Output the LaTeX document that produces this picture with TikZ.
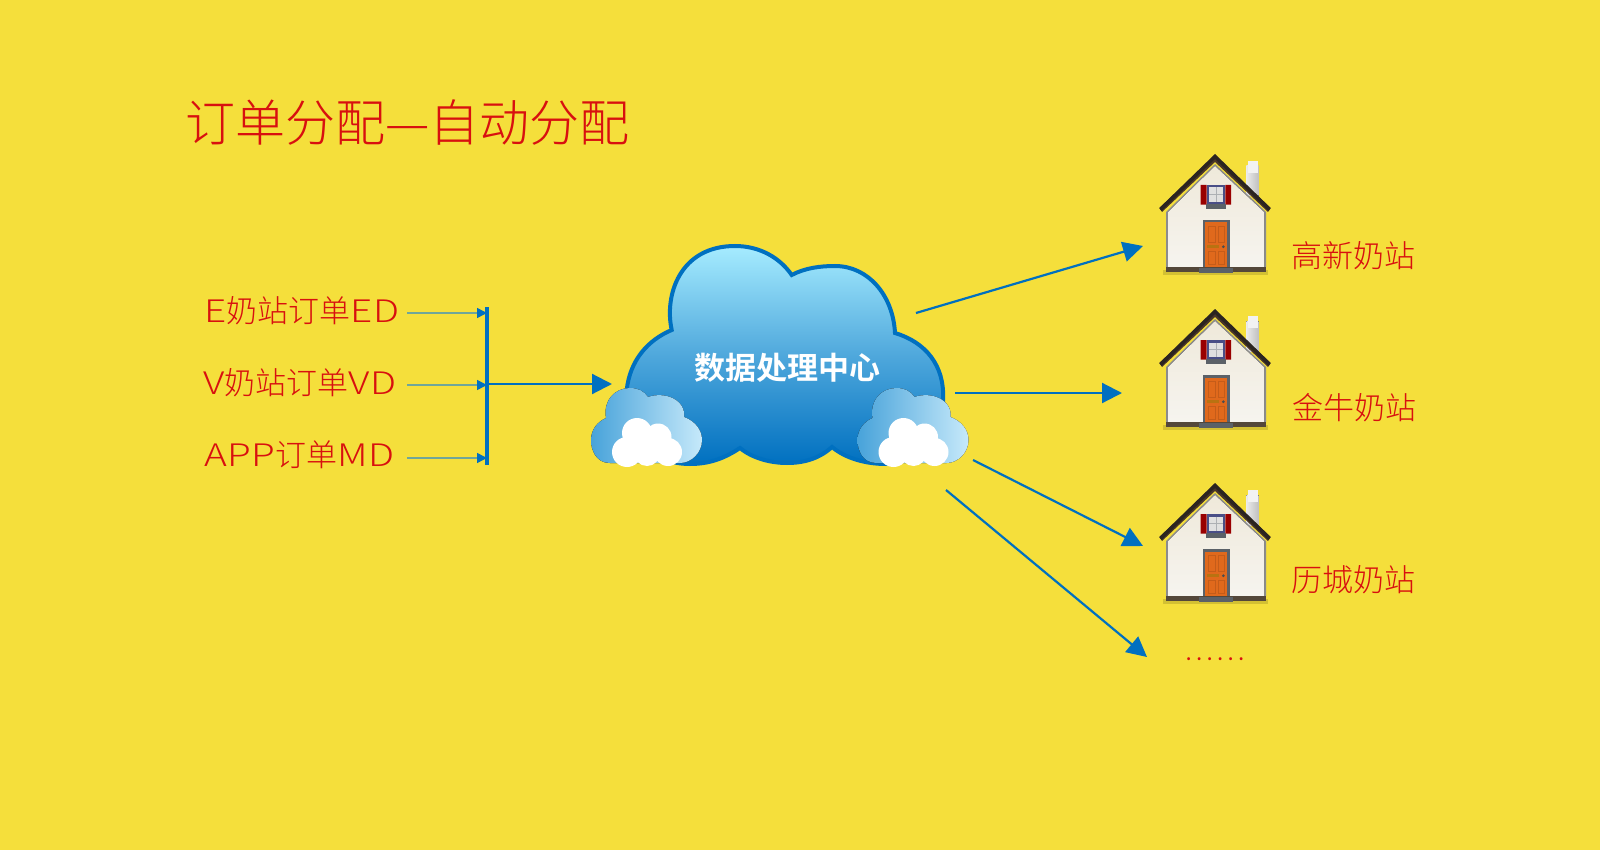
\documentclass[tikz,border=0pt]{standalone}
\usepackage{fontspec}
\usetikzlibrary{arrows.meta}
\setmainfont{Noto Sans CJK SC Light}
\newfontfamily\boldcjk{Noto Sans CJK SC Bold}
\newfontfamily\wide[FakeStretch=1.25, LetterSpace=2]{Noto Sans CJK SC Light}
\definecolor{bgyellow}{HTML}{F5DF3B}
\definecolor{txtred}{HTML}{D8100F}
\definecolor{linkblue}{HTML}{0070C0}
\definecolor{linkgrey}{HTML}{6FA69A}
\definecolor{roofdark}{HTML}{2B2420}
\definecolor{roofbrown}{HTML}{4A3628}
\definecolor{stepgrey}{HTML}{5B6168}
\definecolor{wallwhite}{HTML}{F6F4EF}
\definecolor{gablecream}{HTML}{EFE9DA}
\definecolor{basebrown}{HTML}{54473A}
\definecolor{doororange}{HTML}{E0691C}
\definecolor{cloudtop}{HTML}{A6ECFF}
\definecolor{cloudmid}{HTML}{4FA8DC}
\definecolor{minileft}{HTML}{48A3DA}
\definecolor{miniright}{HTML}{C6E9FA}

\begin{document}
\begin{tikzpicture}[x=1pt, y=-1pt, line join=miter,
    lbl/.style = {text=txtred, font=\fontsize{31}{31}\selectfont, inner sep=0pt},
    thin link/.style = {draw=linkgrey, line width=1.5pt, -{Triangle[length=10pt, width=10pt, color=linkblue]}},
    big link/.style = {draw=linkblue, line width=2.2pt, -{Triangle[length=20pt, width=20pt, fill=linkblue]}},
    minicloud/.pic = {
      \fill[left color=minileft, right color=miniright]
        (19,75) .. controls (5,75) and (0,62) .. (0,52)
        .. controls (0,42) and (6,34) .. (15,30)
        .. controls (12,12) and (24,0) .. (39,0)
        .. controls (47,0) and (53,3) .. (57,9)
        .. controls (74,3) and (95,12) .. (93,29)
        .. controls (104,33) and (111,42) .. (111,52)
        .. controls (111,65) and (100,75) .. (89,75) -- cycle;
      \fill[white] (46,45) circle (15) (67,49) circle (13.5) (36,64) circle (15)
        (56,65) circle (13) (77,64) circle (14);
    },
    house/.pic = {
      \fill[black!14!bgyellow] (-52,116) rectangle (53,121);
      \fill[left color=black!8!white, right color=black!25!white] (31.3,12) rectangle (43.7,42);
      \fill[black!5!white] (32.5,7) rectangle (42.5,19);
      \fill[black!45!white] (0,10) -- (51,58) -- (51,113) -- (-49,113) -- (-49,58) -- cycle;
      \fill[top color=gablecream, bottom color=wallwhite] (0,12) -- (49,58) -- (49,113) -- (-47,113) -- (-47,58) -- cycle;
      \fill[roofbrown] (-53,58) -- (0,8) -- (53,58) -- (55.7,54) -- (0,3) -- (-55.7,54) -- cycle;
      \fill[roofdark] (-55.7,54) -- (0,0) -- (55.7,54) -- (53.5,57) -- (0,5) -- (-53.5,57) -- cycle;
      \fill[basebrown] (-49,113) rectangle (51,118);
      \fill[stepgrey] (-16,114) rectangle (18,119);
      \fill[stepgrey] (-12,66) rectangle (14.5,113);
      \fill[doororange] (-9.7,68.5) rectangle (12.3,113);
      \draw[doororange!88!black, line width=.4pt] (-6.5,72) rectangle (0,88) (3,72) rectangle (9.5,88)
        (-6.5,97) rectangle (0,110) (3,97) rectangle (9.5,110);
      \fill[doororange!60!olive] (-7.7,91) rectangle (3.6,94);
      \fill[black!70] (8.3,92.7) circle (1.5);
      \fill[red!60!black] (-14.3,31) rectangle (-8.3,50.7) (10.3,31) rectangle (16,50.7);
      \fill[stepgrey!80!blue] (-8.3,31.3) rectangle (10.3,50);
      \fill[black!12] (-6.3,33.5) rectangle (8.3,48);
      \draw[stepgrey!50!white, line width=1pt] (1,33.5) -- (1,48) (-6.3,40.7) -- (8.3,40.7);
      \fill[stepgrey] (-9,50) rectangle (11,55);
    }]
  \fill[bgyellow] (0,0) rectangle (1600,850);
  \clip (0,0) rectangle (1600,850);

  % title and order sources
  \node[lbl, font=\fontsize{50}{50}\selectfont] (title) at (407.5,123) {订单分配—自动分配};
  \node[lbl, anchor=west] (ed) at (204,311) {{\wide E}奶站订单{\wide ED}};
  \node[lbl, anchor=west] (vd) at (203,383) {{\wide V}奶站订单{\wide VD}};
  \node[lbl, anchor=west] (md) at (204,455) {{\wide APP}订单{\wide MD}};

  \coordinate (ed end) at (407,313);
  \coordinate (vd end) at (407,385);
  \coordinate (md end) at (407,458);
  \coordinate (bar top) at (487,307);
  \coordinate (bar bottom) at (487,465);
  \coordinate (bar ed) at (487,313);
  \coordinate (bar vd) at (487,385);
  \coordinate (bar md) at (487,458);
  \coordinate (bar out) at (487,384);
  \coordinate (cloud in) at (612,384);

  \path
    (ed end) edge[thin link] (bar ed)
    (vd end) edge[thin link] (bar vd)
    (md end) edge[thin link] (bar md);
  \draw[linkblue, line width=3.2pt] (bar top) -- (bar bottom);
  \path (bar out) edge[big link] (cloud in);

  % main cloud
  \path[draw=linkblue, line width=4pt,
      top color=cloudtop, bottom color=linkblue, middle color=cloudmid]
    (671.7,330) .. controls (664,295) and (680,246) .. (735,246)
    .. controls (760,246) and (780,258) .. (791.7,275)
    .. controls (805,268) and (820,266) .. (835,266)
    .. controls (868,266) and (893,295) .. (895,333)
    .. controls (925,342) and (945,365) .. (943,400)
    .. controls (945,440) and (910,464) .. (886,464)
    .. controls (865,464) and (845,458) .. (832,447)
    .. controls (820,458) and (805,463) .. (787,463)
    .. controls (770,463) and (752,458) .. (740,448)
    .. controls (725,458) and (710,464) .. (690,464)
    .. controls (650,464) and (625,435) .. (626.7,390)
    .. controls (630,360) and (648,340) .. cycle;
  \pic at (591,388) {minicloud};
  \pic at (857.5,388) {minicloud};
  \node[font=\boldcjk\fontsize{31}{31}\selectfont, text=white, inner sep=0pt] (center) at (787,368) {数据处理中心};

  % milk stations
  \pic at (1215,154) {house};
  \pic at (1215,309) {house};
  \pic at (1215,483) {house};
  \node[lbl, anchor=west] (gx) at (1291,256) {高新奶站};
  \node[lbl, anchor=west] (jn) at (1292,408) {金牛奶站};
  \node[lbl, anchor=west] (lc) at (1291,580) {历城奶站};
  \node[lbl, font=\boldcjk\fontsize{16}{16}\selectfont, anchor=base] (more) at (1215,660) {\addfontfeature{LetterSpace=33}......};

  \coordinate (out a) at (916,313);
  \coordinate (out b) at (955,393);
  \coordinate (out c) at (973,460);
  \coordinate (out d) at (946,490);
  \coordinate (gx in) at (1143,246);
  \coordinate (jn in) at (1122,393);
  \coordinate (lc in) at (1143,546);
  \coordinate (more in) at (1147,657);
  \path
    (out a) edge[big link] (gx in)
    (out b) edge[big link] (jn in)
    (out c) edge[big link] (lc in)
    (out d) edge[big link] (more in);
\end{tikzpicture}
\end{document}
